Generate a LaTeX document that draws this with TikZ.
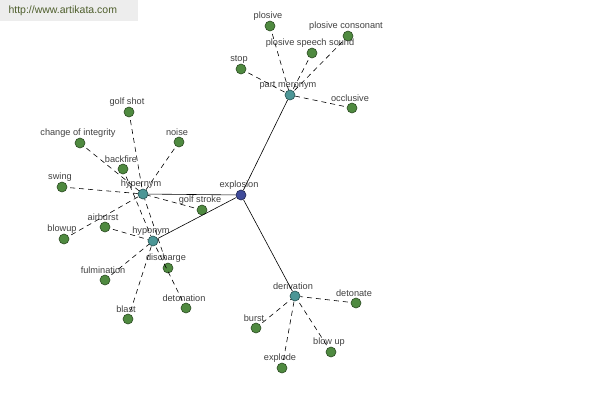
\documentclass[tikz,border=0pt]{standalone}
\usepackage{fontspec}
\setmainfont{Liberation Sans}
\definecolor{wordgreen}{HTML}{4F8A40}
\definecolor{wordrim}{HTML}{2B4A22}
\definecolor{reltEal}{HTML}{4C9696}
\definecolor{relrim}{HTML}{24504F}
\definecolor{rootblue}{HTML}{3F4B9A}
\definecolor{rootrim}{HTML}{1F2450}
\definecolor{labelgray}{HTML}{404040}
\definecolor{markgray}{HTML}{EDEDED}
\definecolor{markgreen}{HTML}{4E5E2C}
\tikzstyle{word} = [
    circle,
    minimum size=10pt,
    inner sep=0pt,
    fill=wordgreen,
    draw=wordrim,
    line width=0.6pt
]
\tikzstyle{relation} = [
    word,
    fill=reltEal,
    draw=relrim
]
\tikzstyle{root} = [
    word,
    fill=rootblue,
    draw=rootrim
]
\tikzstyle{link} = [line width=0.6pt, black]
\tikzstyle{weak} = [line width=0.6pt, black, dash pattern=on 5pt off 4pt, shorten <=3pt]

\begin{document}
\begin{tikzpicture}[x=1pt, y=-1pt,
    every label/.style={text=labelgray, font=\fontsize{9.2}{10}\selectfont, inner sep=1pt, xshift=-2pt},
    label distance=-0.5pt]

\useasboundingbox (0,0) rectangle (600,400);
\fill [markgray] (0,0) rectangle (138,21);
\node (mark) [text=markgreen, font=\fontsize{10.5}{12}\selectfont, anchor=west] at (5,11) {http://www.artikata.com};

\node (explosion) [root, label=above:explosion] at (241,195) {};

\node (hypernym) [relation, label=above:hypernym] at (143,194) {};
\node (hyponym) [relation, label=above:hyponym] at (153,241) {};
\node (partmeronym) [relation, label=above:part meronym] at (290,95) {};
\node (derivation) [relation, label=above:derivation] at (295,296) {};

\node (plosive) [word, label=above:plosive] at (270,26) {};
\node (plosivecons) [word, label=above:plosive consonant] at (348,36) {};
\node (plosivesound) [word, label=above:plosive speech sound] at (312,53) {};
\node (stop) [word, label=above:stop] at (241,69) {};
\node (occlusive) [word, label=above:occlusive] at (352,108) {};

\node (golfshot) [word, label=above:golf shot] at (129,112) {};
\node (integrity) [word, label=above:change of integrity] at (80,143) {};
\node (noise) [word, label=above:noise] at (179,142) {};
\node (swing) [word, label=above:swing] at (62,187) {};
\node (golfstroke) [word, label=above:golf stroke] at (202,210) {};
\node (discharge) [word, label=above:discharge] at (168,268) {};
\node (blowup) [word, label=above:blowup] at (64,239) {};

\node (backfire) [word, label=above:backfire] at (123,169) {};
\node (airburst) [word, label=above:airburst] at (105,227) {};
\node (fulmination) [word, label=above:fulmination] at (105,280) {};
\node (blast) [word, label=above:blast] at (128,319) {};
\node (detonation) [word, label=above:detonation] at (186,308) {};

\node (detonate) [word, label=above:detonate] at (356,303) {};
\node (burst) [word, label=above:burst] at (256,328) {};
\node (explode) [word, label=above:explode] at (282,368) {};
\node (blowup2) [word, label=above:blow up] at (331,352) {};

\draw [link] (explosion) -- (hypernym);
\draw [link] (explosion) -- (hyponym);
\draw [link] (explosion) -- (partmeronym);
\draw [link] (explosion) -- (derivation);

\draw [weak] (plosive) -- (partmeronym);
\draw [weak] (plosivecons) -- (partmeronym);
\draw [weak] (plosivesound) -- (partmeronym);
\draw [weak] (stop) -- (partmeronym);
\draw [weak] (occlusive) -- (partmeronym);

\draw [weak] (golfshot) -- (hypernym);
\draw [weak] (integrity) -- (hypernym);
\draw [weak] (noise) -- (hypernym);
\draw [weak] (swing) -- (hypernym);
\draw [weak] (golfstroke) -- (hypernym);
\draw [weak] (discharge) -- (hypernym);
\draw [weak] (blowup) -- (hypernym);

\draw [weak] (backfire) -- (hyponym);
\draw [weak] (airburst) -- (hyponym);
\draw [weak] (fulmination) -- (hyponym);
\draw [weak] (blast) -- (hyponym);
\draw [weak] (detonation) -- (hyponym);

\draw [weak] (detonate) -- (derivation);
\draw [weak] (burst) -- (derivation);
\draw [weak] (explode) -- (derivation);
\draw [weak] (blowup2) -- (derivation);

\end{tikzpicture}
\end{document}
